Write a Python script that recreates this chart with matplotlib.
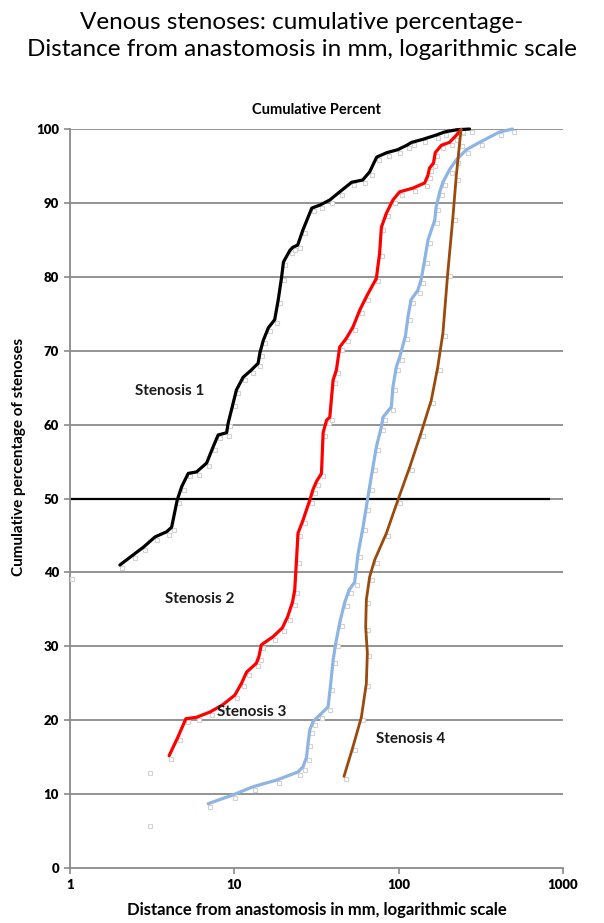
import matplotlib
matplotlib.use("Agg")
import matplotlib.pyplot as plt
import matplotlib.transforms as mtrans

FONT = ["Lato", "DejaVu Sans"]
plt.rcParams["font.family"] = FONT

title_lines = ["Venous stenoses: cumulative percentage-",
               "Distance from anastomosis in mm, logarithmic scale"]
chart_title = "Cumulative Percent"
x_label = "Distance from anastomosis in mm, logarithmic scale"
y_label = "Cumulative percentage of stenoses"

x_ticks = [1, 10, 100, 1000]
x_tick_labels = ["1", "10", "100", "1000"]
y_ticks = [0, 10, 20, 30, 40, 50, 60, 70, 80, 90, 100]

# Stenosis 1 (black)
s1_x = [2.01, 2.43, 2.79, 3.29, 3.87, 4.15, 4.49, 4.78, 5.24, 5.89, 6.78, 7.43,
        7.97, 8.97, 9.17, 9.83, 10.3, 11.3, 12.7, 13.95, 14.3, 15.0, 16.1, 17.6,
        18.5, 19.4, 19.9, 21.8, 22.7, 24.3, 26.1, 29.6, 33.1, 38.1, 43.8, 51.8,
        60.4, 66.6, 73.5, 84.6, 98.6, 112, 120, 140, 170, 190, 225, 270]
s1_y = [41.0, 42.4, 43.4, 44.8, 45.5, 46.1, 49.8, 51.6, 53.4, 53.6, 54.8, 57.0,
        58.6, 58.9, 60.2, 62.9, 64.7, 66.4, 67.4, 68.3, 69.7, 71.4, 73.1, 74.2,
        76.9, 80.0, 82.0, 83.6, 84.0, 84.3, 86.3, 89.3, 89.7, 90.4, 91.5, 92.8,
        93.1, 94.2, 96.2, 96.8, 97.2, 97.8, 98.2, 98.6, 99.2, 99.6, 99.9, 100]

# Stenosis 2 (red)
s2_x = [4.01, 4.53, 5.07, 5.89, 7.10, 8.51, 10.07, 11.06, 11.87, 13.6, 14.1, 14.6,
        17.2, 19.6, 21.1, 22.6, 23.3, 23.9, 24.4, 26.2, 28.8, 30.1, 31.6, 33.9,
        34.7, 36.4, 38.1, 39.9, 41.8, 43.8, 48.1, 52.7, 58.0, 63.6, 73.2, 76.6,
        78.5, 84.2, 92.3, 101.4, 122, 144, 151, 154, 163, 167, 182, 204, 219, 240]
s2_y = [15.2, 17.7, 20.2, 20.4, 21.1, 22.1, 23.4, 25.0, 26.5, 27.7, 28.6, 30.2,
        31.3, 32.5, 34.0, 36.0, 37.6, 41.7, 45.3, 47.1, 49.8, 51.2, 52.3, 53.4,
        58.9, 60.6, 61.0, 66.0, 67.4, 70.5, 71.7, 73.2, 75.5, 77.3, 79.8, 83.2,
        86.7, 88.6, 90.4, 91.5, 92.0, 92.7, 93.8, 94.7, 95.4, 96.8, 97.8, 98.2, 98.9, 99.9]

# Stenosis 3 (light blue)
s3_x = [6.93, 9.83, 13.0, 18.1, 24.4, 26.2, 27.5, 28.1, 28.8, 30.1, 33.1, 37.2,
        38.4, 39.9, 41.4, 43.8, 46.9, 49.9, 54.0, 56.6, 60.7, 63.6, 66.6, 69.8,
        73.2, 78.5, 80.3, 90.3, 92.3, 96.8, 101.4, 110, 114, 119, 131, 137, 144,
        151, 166, 169, 178, 186, 204, 224, 258, 311, 411, 493]
s3_y = [8.7, 9.9, 11.0, 11.9, 13.0, 13.7, 15.0, 16.9, 18.7, 19.8, 20.7, 21.8,
        24.5, 28.1, 30.4, 33.2, 35.9, 37.6, 38.7, 42.5, 46.1, 48.9, 51.6, 54.3,
        57.0, 59.7, 61.0, 62.4, 65.1, 67.8, 69.1, 72.0, 74.6, 76.9, 78.2, 79.6, 82.3,
        85.0, 87.7, 89.4, 91.5, 92.8, 94.5, 95.8, 97.2, 98.2, 99.6, 100]

# Stenosis 4 (brown)
s4_x = [46.5, 52.7, 59.3, 63.6, 64.5, 63.0, 63.6, 66.6, 71.5, 84.2, 99, 117,
        137, 158, 173, 186, 199, 214, 224, 235, 240]
s4_y = [12.4, 16.4, 20.4, 25.0, 29.1, 32.6, 36.3, 39.4, 41.7, 45.3, 49.8, 54.3,
        58.9, 63.3, 67.8, 72.4, 80.5, 88.1, 93.5, 98.1, 100]

# stray markers without line
extra_x = [3.0, 3.0, 1.0]
extra_y = [13.3, 6.1, 39.5]

series = [
    ("Stenosis 1", s1_x, s1_y, "#000000", 2.3),
    ("Stenosis 2", s2_x, s2_y, "#ff0000", 2.3),
    ("Stenosis 3", s3_x, s3_y, "#8db4e2", 2.3),
    ("Stenosis 4", s4_x, s4_y, "#9a4a0c", 2.0),
]

labels = ["Stenosis 1", "Stenosis 2", "Stenosis 3", "Stenosis 4"]
label_x = [4.05, 6.17, 12.8, 118.5]
label_y = [64.5, 36.4, 21.1, 17.5]

fig = plt.figure(figsize=(6.04, 9.23), dpi=100)
ax = fig.add_axes([0.116, 0.0596, 0.816, 0.8006])
ax.set_xscale("log")
ax.set_xlim(1, 1000)
ax.set_ylim(0, 100)

grid_c = "#8a8a8a"
for yv in y_ticks[1:]:
    ax.axhline(yv, color=grid_c, lw=1.3, zorder=1)
ax.hlines(50, 1, 830, color="#000000", lw=1.6, zorder=2)

moff = mtrans.offset_copy(ax.transData, fig=fig, x=2, y=-3, units="dots")
mk = dict(ls="none", marker="s", ms=3.2, mfc="white", mec="#d2d2d2",
          mew=0.8, transform=moff, zorder=3, clip_on=False)
for name, xs, ys, c, lw in series:
    ax.plot(xs, ys, **mk)
    ax.plot(xs, ys, color=c, lw=lw, solid_capstyle="round",
            solid_joinstyle="round", zorder=4, clip_on=False)
ax.plot(extra_x, extra_y, **mk)

for t, lx, ly in zip(labels, label_x, label_y):
    ax.text(lx, ly, t, ha="center", va="center", fontsize=11,
            fontweight="bold", color="#1a1a1a", zorder=5)

ax.set_xticks(x_ticks)
ax.set_xticklabels(x_tick_labels)
ax.xaxis.set_minor_locator(matplotlib.ticker.NullLocator())
ax.set_yticks(y_ticks)
ax.tick_params(axis="both", which="major", direction="out", length=4,
               color=grid_c, width=1.2, labelsize=9.5, pad=4)
for lab in ax.get_xticklabels() + ax.get_yticklabels():
    lab.set_fontweight("heavy")

for s in ["top", "right"]:
    ax.spines[s].set_visible(False)
for s in ["left", "bottom"]:
    ax.spines[s].set_color(grid_c)
    ax.spines[s].set_linewidth(1.3)

ax.set_xlabel(x_label, fontsize=12, fontweight="bold")
ax.xaxis.set_label_coords(0.5, -0.046)
ax.set_ylabel(y_label, fontsize=11, fontweight="bold")
ax.yaxis.set_label_coords(-0.09, 0.556)

ax.set_title(chart_title, fontsize=10.5, fontweight="bold", pad=11)

fig.text(0.5, 0.976, title_lines[0], ha="center", va="center", fontsize=17.5)
fig.text(0.5, 0.946, title_lines[1], ha="center", va="center", fontsize=17.5)

fig.savefig("out.png", dpi=100)
